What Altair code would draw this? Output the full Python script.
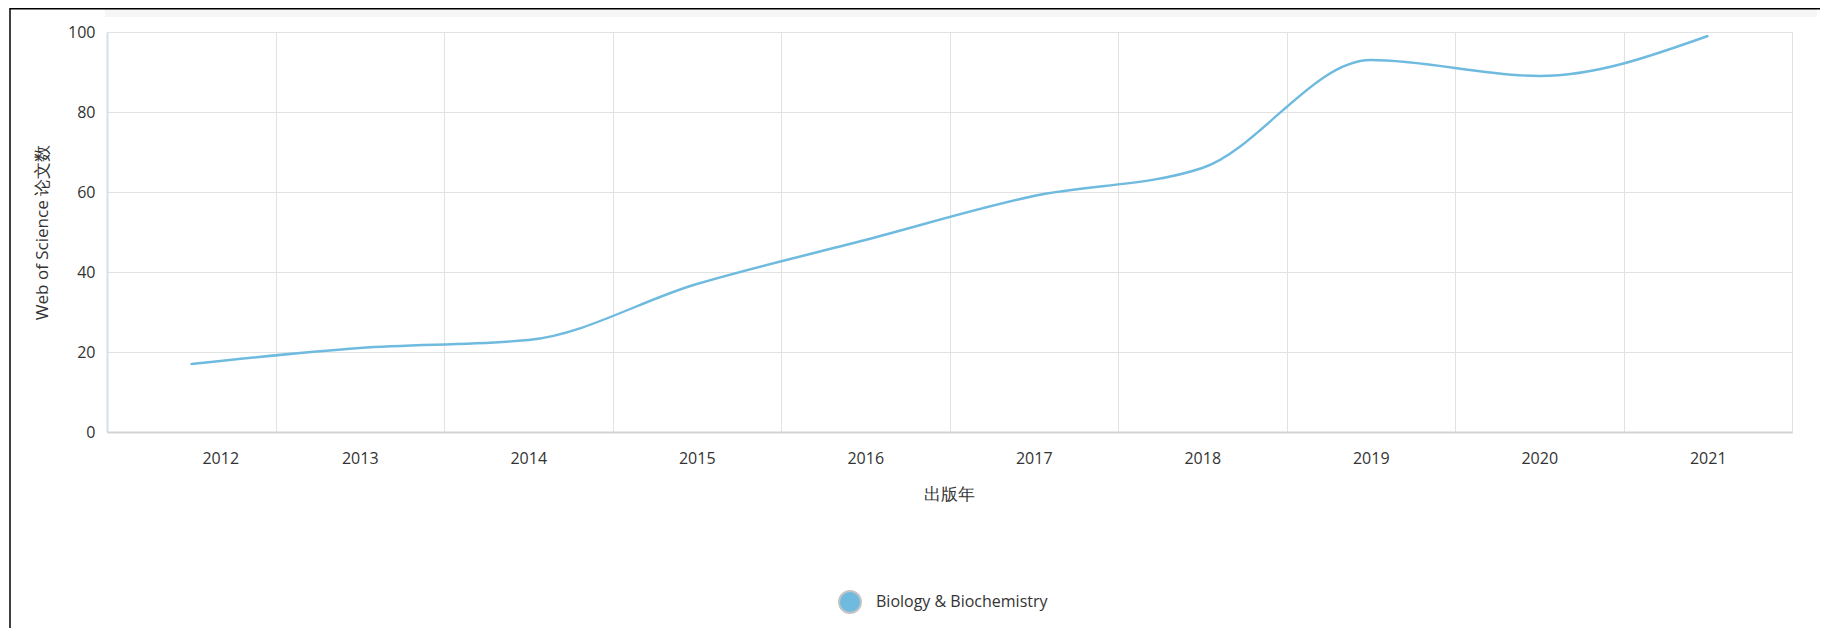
import altair as alt
import pandas as pd

years = [2012, 2013, 2014, 2015, 2016, 2017, 2018, 2019, 2020, 2021]
counts = [17, 21, 23, 37, 48, 59, 66, 93, 89, 99]
series_name = "Biology & Biochemistry"
y_title = "Web of Science 论文数"
x_title = "出版年"

LINE_COLOR = "#6fbadf"
FONT = "Open Sans"

df = pd.DataFrame({"year": years, "count": counts, "series": [series_name] * len(years)})
one = pd.DataFrame({"a": [0]})

x_enc = alt.X(
    "year:O",
    scale=alt.Scale(paddingInner=0, paddingOuter=0),
    axis=alt.Axis(
        title=x_title,
        titleFont=FONT, titleFontSize=17, titleFontWeight="normal", titleColor="#333333",
        titleX=842, titleY=62, titleBaseline="middle", titleAlign="center",
        labelFont=FONT, labelFontSize=16, labelColor="#333333", labelAngle=0,
        labelPadding=18, labelOffset=alt.ExprRef(expr="datum.label == '2012' ? 29 : 0"),
        ticks=False, tickSize=0, tickBand="extent",
        grid=True, gridColor="#e2e2e2", gridWidth=1,
        domainColor="#d3d3d3", domainWidth=2,
    ),
)
y_enc = alt.Y(
    "count:Q",
    scale=alt.Scale(domain=[0, 100], nice=False),
    axis=alt.Axis(
        title=y_title,
        titleFont=FONT, titleFontSize=17, titleFontWeight="normal", titleColor="#333333",
        titleX=-65, titleY=200, titleAngle=270, titleBaseline="middle", titleAlign="center",
        values=[0, 20, 40, 60, 80, 100],
        labelFont=FONT, labelFontSize=16, labelColor="#333333", labelPadding=12,
        ticks=False, tickSize=0,
        grid=True, gridColor="#e2e2e2", gridWidth=1,
        domainColor="#d6ddeb", domainWidth=2,
    ),
)

points = alt.Chart(df).mark_circle(size=4, opacity=1).encode(
    x=x_enc,
    y=y_enc,
    color=alt.Color(
        "series:N",
        scale=alt.Scale(range=[LINE_COLOR]),
        legend=alt.Legend(
            title=None, orient="none", legendX=731, legendY=558, padding=0,
            symbolType="circle", symbolSize=484, symbolStrokeColor="#c4c4c4",
            symbolStrokeWidth=2, symbolOpacity=1,
            labelFont=FONT, labelFontSize=16, labelColor="#333333", labelOffset=14,
            labelLimit=0,
        ),
    ),
)

line = alt.Chart(df).mark_line(interpolate="monotone", strokeWidth=2.4, color=LINE_COLOR).encode(
    x=x_enc, y=y_enc
)

header = alt.Chart(one).mark_rect(color="#f6f6f6").encode(
    x=alt.value(-2), x2=alt.value(1710), y=alt.value(-24), y2=alt.value(-15)
)
frame_left = alt.Chart(one).mark_rule(color="#000000", strokeWidth=1.5).encode(
    x=alt.value(-97), y=alt.value(-24), y2=alt.value(596)
)
frame_top = alt.Chart(one).mark_rule(color="#000000", strokeWidth=1.5).encode(
    x=alt.value(-97), x2=alt.value(1713), y=alt.value(-23.2)
)

chart = alt.layer(header, frame_left, frame_top, points, line).properties(
    width=1685,
    height=400,
    padding={"left": 99, "top": 24, "right": 28, "bottom": 196},
    autosize=alt.AutoSizeParams(type="none"),
).configure_view(stroke=None).configure(background="white")

chart.save("out.html", embed_options={"renderer": "svg", "actions": False})
